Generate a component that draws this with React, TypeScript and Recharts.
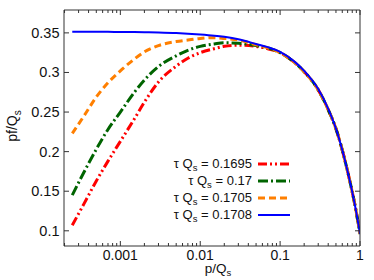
import React from "react";
import { LineChart, Line, XAxis, YAxis, Label } from "recharts";

// p/Qs grid
const P = [
  0.00025, 0.00035, 0.0005, 0.0007, 0.001, 0.0015, 0.002, 0.003, 0.005, 0.007,
  0.01, 0.015, 0.02, 0.03, 0.05, 0.07, 0.1, 0.15, 0.2, 0.3, 0.4, 0.5, 0.6, 0.7,
  0.8, 0.9, 1,
];

const TAU_1695 = [
  0.107, 0.134, 0.163, 0.188, 0.213, 0.2415, 0.2625, 0.288, 0.308, 0.318,
  0.325, 0.33, 0.333, 0.3345, 0.333, 0.33, 0.325, 0.313, 0.301, 0.278, 0.253, 0.229, 0.202, 0.175,
  0.149, 0.123, 0.096,
];
const TAU_17 = [
  0.145, 0.174, 0.203, 0.228, 0.25, 0.275, 0.2905, 0.3075, 0.321, 0.328,
  0.333, 0.336, 0.3375, 0.337, 0.334, 0.331, 0.325, 0.313, 0.301, 0.278, 0.253, 0.229, 0.202, 0.175,
  0.149, 0.123, 0.096,
];
const TAU_1705 = [
  0.223, 0.245, 0.269, 0.287, 0.302, 0.317, 0.326, 0.334, 0.339, 0.341,
  0.343, 0.344, 0.343, 0.341, 0.335, 0.331, 0.325, 0.313, 0.301, 0.278, 0.253, 0.229, 0.202, 0.175,
  0.149, 0.123, 0.096,
];
const TAU_1708 = [
  0.3515, 0.3515, 0.3514, 0.3513, 0.3512, 0.351, 0.3508, 0.3504, 0.3497, 0.349,
  0.348, 0.3465, 0.345, 0.342, 0.336, 0.332, 0.326, 0.314, 0.302, 0.279, 0.254, 0.229, 0.202, 0.175,
  0.149, 0.123, 0.096,
];

const SERIES = [
  { key: "t1695", label: "0.1695", values: TAU_1695, color: "#ff0000", width: 3, dash: "9 3 2 3 2 3" },
  { key: "t17", label: "0.17", values: TAU_17, color: "#006400", width: 3, dash: "10 3 2 3" },
  { key: "t1705", label: "0.1705", values: TAU_1705, color: "#ff7f00", width: 3, dash: "7 4" },
  { key: "t1708", label: "0.1708", values: TAU_1708, color: "#0000ff", width: 2, dash: undefined },
];

const X_MAJOR = [0.001, 0.01, 0.1, 1];
const X_DECADES = [0.0001, 0.001, 0.01, 0.1];
const X_MULT = [2, 3, 4, 5, 6, 7, 8, 9];
const Y_TICKS = [0.1, 0.15, 0.2, 0.25, 0.3, 0.35];

const X_DOMAIN = [0.000197, 1];
const Y_DOMAIN = [0.0808, 0.3789];

const xTicks = [
  ...X_DECADES.flatMap((d) => X_MULT.map((m) => +(d * m).toPrecision(3))).filter((v) => v > X_DOMAIN[0]),
  ...X_MAJOR,
].sort((a, b) => a - b);

const data = P.map((p, i) => {
  const row: any = { p };
  SERIES.forEach((s) => (row[s.key] = s.values[i]));
  return row;
});

const AXIS = "#333";
const FONT = "'Liberation Sans', Arial, Helvetica, sans-serif";
const isMajor = (v: number) => X_MAJOR.includes(v);

function BottomTick({ x, y, payload }: any) {
  const major = isMajor(payload.value);
  return (
    <g>
      <line x1={x} x2={x} y1={y} y2={y - (major ? 5 : 3)} stroke={AXIS} />
      {major && (
        <text x={x} y={y + 13.5} textAnchor="middle" fontSize={14} fill="#111" fontFamily={FONT}>
          {payload.value}
        </text>
      )}
    </g>
  );
}

function TopTick({ x, y, payload }: any) {
  const major = isMajor(payload.value);
  return <line x1={x} x2={x} y1={y} y2={y + (major ? 5 : 3)} stroke={AXIS} />;
}

function LeftTick({ x, y, payload }: any) {
  return (
    <g>
      <line x1={x} x2={x + 5} y1={y} y2={y} stroke={AXIS} />
      <text x={x - 4.5} y={y + 5} textAnchor="end" fontSize={14.5} fill="#111" fontFamily={FONT}>
        {payload.value}
      </text>
    </g>
  );
}

function RightTick({ x, y }: any) {
  return <line x1={x} x2={x - 5} y1={y} y2={y} stroke={AXIS} />;
}

const XTitle = ({ viewBox }: any) => (
  <text x={viewBox.x + viewBox.width / 2 + 6} y={viewBox.y + 27} textAnchor="middle" fontSize={13.5} fill="#111" fontFamily={FONT}>
    p/Q
    <tspan fontSize={9.5} dy={3}>s</tspan>
  </text>
);

const YTitle = ({ viewBox }: any) => {
  const cx = 17;
  const cy = viewBox.y + viewBox.height / 2 - 2;
  return (
    <text x={cx} y={cy} transform={`rotate(-90, ${cx}, ${cy})`} textAnchor="middle" fontSize={14} fill="#111" fontFamily={FONT}>
      pf/Q
      <tspan fontSize={10} dy={4}>s</tspan>
    </text>
  );
};

function LegendBox() {
  return (
    <div style={{ position: "absolute", left: 150, top: 155, width: 140, fontFamily: FONT, fontSize: 13, color: "#111" }}>
      {SERIES.map((s) => (
        <div key={s.key} style={{ display: "flex", justifyContent: "flex-end", alignItems: "center", height: 17 }}>
          <span style={{ whiteSpace: "nowrap" }}>
            τ Q<span style={{ fontSize: 9.5, position: "relative", top: 3 }}>s</span> = {s.label}
          </span>
          <svg width={32} height={8} style={{ marginLeft: 6 }}>
            <line x1={0} x2={32} y1={4} y2={4} stroke={s.color} strokeWidth={s.width} strokeDasharray={s.dash} />
          </svg>
        </div>
      ))}
    </div>
  );
}

export default function App() {
  return (
    <div style={{ position: "absolute", left: 0, top: 0, width: 374, height: 280, background: "#fff" }}>
      <LineChart width={374} height={280} data={data} margin={{ top: 9, right: 13, bottom: 33, left: 63 }}>
        <XAxis
          dataKey="p"
          type="number"
          scale="log"
          domain={X_DOMAIN}
          allowDataOverflow
          ticks={xTicks}
          interval={0}
          height={1}
          tickSize={0}
          tickMargin={0}
          tickLine={false}
          axisLine={{ stroke: AXIS }}
          tick={(props: any) => <BottomTick {...props} />}
        >
          <Label content={XTitle} />
        </XAxis>
        <XAxis
          xAxisId="top"
          orientation="top"
          dataKey="p"
          type="number"
          scale="log"
          domain={X_DOMAIN}
          allowDataOverflow
          ticks={xTicks}
          interval={0}
          height={1}
          tickSize={0}
          tickMargin={0}
          tickLine={false}
          axisLine={{ stroke: AXIS }}
          tick={(props: any) => <TopTick {...props} />}
        />
        <YAxis
          type="number"
          domain={Y_DOMAIN}
          allowDataOverflow
          ticks={Y_TICKS}
          interval={0}
          width={1}
          tickSize={0}
          tickMargin={0}
          tickLine={false}
          axisLine={{ stroke: AXIS }}
          tick={(props: any) => <LeftTick {...props} />}
        >
          <Label content={YTitle} />
        </YAxis>
        <YAxis
          yAxisId="right"
          orientation="right"
          type="number"
          domain={Y_DOMAIN}
          allowDataOverflow
          ticks={Y_TICKS}
          interval={0}
          width={1}
          tickSize={0}
          tickMargin={0}
          tickLine={false}
          axisLine={{ stroke: AXIS }}
          tick={(props: any) => <RightTick {...props} />}
        />
        {SERIES.map((s) => (
          <Line
            key={s.key}
            type="monotone"
            dataKey={s.key}
            stroke={s.color}
            strokeWidth={s.width}
            strokeDasharray={s.dash}
            dot={false}
            activeDot={false}
            isAnimationActive={false}
          />
        ))}
      </LineChart>
      <LegendBox />
    </div>
  );
}
